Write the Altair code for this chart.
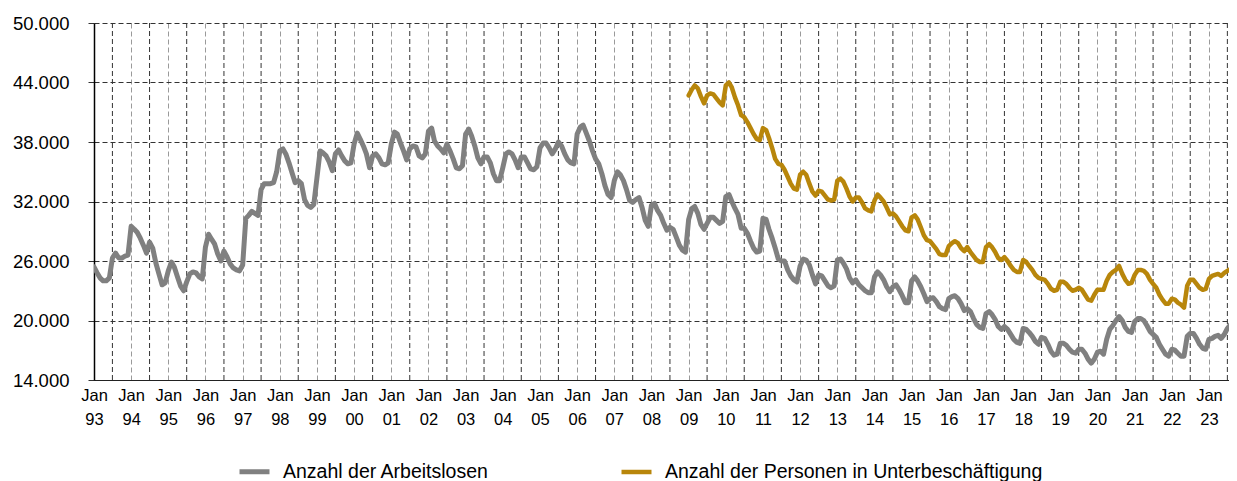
import altair as alt
import pandas as pd

# ---------------- data (values in thousands, monthly) ----------------
SERIES_ALO = "Anzahl der Arbeitslosen"
SERIES_UB = "Anzahl der Personen in Unterbeschäftigung"

# Arbeitslose, monthly from Jan 1993
arbeitslose = [
    25.4, 24.8, 24.3, 24.0, 24.0, 24.3, 26.3, 26.8, 26.3, 26.3, 26.5, 26.6,  # 1993
    29.5, 29.2, 28.9, 28.3, 27.6, 26.8, 27.9, 27.3, 25.8, 24.7, 23.6, 23.8,  # 1994
    25.0, 25.9, 25.4, 24.4, 23.5, 23.0, 23.9, 24.7, 24.9, 24.8, 24.4, 24.2,  # 1995
    27.4, 28.7, 28.2, 27.7, 26.7, 26.0, 27.0, 26.4, 25.7, 25.3, 25.1, 25.0,  # 1996
    25.6, 30.3, 30.6, 31.0, 30.8, 30.6, 33.2, 33.8, 33.8, 33.8, 33.9, 35.0,  # 1997
    37.1, 37.3, 36.8, 35.9, 34.9, 33.9, 34.1, 33.8, 32.2, 31.6, 31.4, 31.7,  # 1998
    34.4, 37.1, 36.9, 36.6, 36.0, 35.1, 36.8, 37.2, 36.6, 36.1, 35.8, 35.9,  # 1999
    37.8, 38.9, 38.3, 37.6, 36.8, 35.4, 36.6, 36.8, 36.4, 35.8, 35.7, 35.9,  # 2000
    37.8, 39.0, 38.8, 37.9, 37.1, 36.2, 37.3, 37.6, 37.5, 36.6, 36.4, 36.8,  # 2001
    39.1, 39.4, 38.1, 37.6, 37.3, 36.9, 37.8, 37.1, 36.3, 35.4, 35.3, 35.6,  # 2002
    38.8, 39.3, 38.6, 37.6, 36.4, 35.8, 36.5, 36.5, 35.9, 34.8, 34.1, 34.1,  # 2003
    35.4, 36.8, 37.0, 36.8, 36.2, 35.4, 36.5, 36.5, 35.9, 35.3, 35.2, 35.5,  # 2004
    37.4, 37.9, 37.9, 37.4, 36.8, 37.3, 38.0, 37.6, 36.8, 36.2, 35.9, 35.8,  # 2005
    38.8, 39.5, 39.7, 38.9, 38.1, 37.1, 36.3, 35.8, 34.8, 33.6, 32.7, 32.4,  # 2006
    34.1, 35.0, 34.7, 34.1, 33.2, 32.1, 31.9, 32.2, 32.4, 31.4, 30.1, 29.5,  # 2007
    31.6, 31.8, 31.1, 30.6, 29.8, 29.1, 29.4, 29.2, 28.4, 27.6, 27.1, 26.9,  # 2008
    30.2, 31.3, 31.5, 30.8, 29.7, 29.2, 29.8, 30.4, 30.4, 30.1, 29.8, 30.0,  # 2009
    32.5, 32.7, 32.0, 31.3, 30.7, 29.3, 29.3, 28.8, 28.0, 27.3, 26.9, 27.0,  # 2010
    30.3, 30.2, 29.2, 28.3, 27.3, 26.2, 26.0, 26.0, 25.1, 24.5, 24.1, 23.9,  # 2011
    25.5, 26.2, 26.1, 25.6, 24.6, 23.7, 24.6, 24.5, 24.0, 23.5, 23.3, 23.5,  # 2012
    26.1, 26.2, 25.8, 25.2, 24.3, 23.8, 24.1, 23.6, 23.3, 23.0, 22.8, 22.8,  # 2013
    24.4, 24.9, 24.6, 24.1, 23.4, 22.9, 23.4, 23.6, 23.1, 22.5, 21.8, 21.8,  # 2014
    24.0, 24.4, 24.0, 23.4, 22.7, 21.9, 22.2, 22.3, 21.9, 21.4, 21.2, 21.1,  # 2015
    22.2, 22.4, 22.5, 22.2, 21.7, 21.0, 21.2, 20.9, 20.2, 19.6, 19.3, 19.2,  # 2016
    20.7, 20.9, 20.6, 20.1, 19.4, 19.1, 19.4, 19.1, 18.6, 18.1, 17.8, 17.7,  # 2017
    19.2, 19.1, 18.8, 18.4, 17.9, 17.6, 18.3, 18.2, 17.6, 16.9, 16.5, 16.6,  # 2018
    17.7, 17.7, 17.5, 17.1, 16.8, 16.7, 17.1, 17.1, 16.7, 16.1, 15.7, 16.1,  # 2019
    16.8, 16.9, 16.6, 18.1, 19.1, 19.5, 20.0, 20.4, 20.0, 19.3, 18.9, 18.8,  # 2020
    19.9, 20.2, 20.2, 20.0, 19.5, 18.9, 18.6, 18.3, 17.6, 17.1, 16.6, 16.4,  # 2021
    17.1, 17.0, 16.7, 16.4, 16.4, 18.4, 18.7, 18.7, 18.2, 17.6, 17.2, 17.1,  # 2022
    18.1, 18.2, 18.4, 18.5, 18.2, 18.6, 19.2, 19.6, 18.9,                    # 2023
]

# Unterbeschaeftigung, monthly from Jan 2009
unterbeschaeftigung = [
    42.7, 43.3, 43.7, 43.4, 42.6, 41.9, 42.7, 42.9, 42.8, 42.4, 42.0, 41.7,  # 2009
    43.7, 44.0, 43.5, 42.5, 41.7, 40.7, 40.5, 40.0, 39.4, 38.8, 38.3, 38.2,  # 2010
    39.4, 39.2, 38.4, 37.4, 36.3, 35.8, 35.7, 35.2, 34.5, 33.8, 33.3, 33.2,  # 2011
    34.7, 35.0, 34.7, 33.8, 33.0, 32.6, 33.1, 33.0, 32.6, 32.2, 32.1, 32.2,  # 2012
    34.1, 34.3, 34.0, 33.3, 32.5, 32.0, 32.4, 32.4, 31.9, 31.3, 31.1, 31.0,  # 2013
    32.1, 32.7, 32.4, 32.0, 31.4, 30.7, 30.8, 30.5, 30.0, 29.5, 29.1, 29.0,  # 2014
    30.4, 30.6, 30.2, 29.4, 28.6, 28.1, 28.0, 27.6, 27.2, 26.7, 26.6, 26.6,  # 2015
    27.5, 27.8, 28.0, 27.8, 27.3, 27.0, 27.4, 26.9, 26.5, 26.1, 25.9, 25.9,  # 2016
    27.4, 27.7, 27.4, 26.9, 26.3, 26.1, 26.4, 26.0, 25.5, 25.1, 24.9, 24.9,  # 2017
    26.1, 25.9, 25.5, 25.1, 24.6, 24.3, 24.2, 24.1, 23.7, 23.2, 23.0, 23.1,  # 2018
    23.9, 23.9, 23.7, 23.3, 23.0, 23.1, 23.3, 23.1, 22.6, 22.1, 22.0, 22.6,  # 2019
    23.1, 23.1, 23.1, 24.0, 24.6, 24.9, 25.1, 25.5, 24.7, 24.1, 23.7, 23.8,  # 2020
    24.6, 25.1, 25.1, 25.0, 24.7, 24.1, 23.7, 23.3, 22.6, 22.1, 21.7, 21.7,  # 2021
    22.2, 22.1, 21.8, 21.6, 21.3, 23.5, 24.1, 24.1, 23.7, 23.3, 23.1, 23.2,  # 2022
    24.2, 24.5, 24.6, 24.7, 24.5, 24.8, 25.0, 25.2, 24.8,                    # 2023
]

y_ticks = [14000, 20000, 26000, 32000, 38000, 44000, 50000]
tick_years = list(range(1993, 2024))
mid_years = list(range(1993, 2024))

# ---------------- tables ----------------
df_a = pd.DataFrame({
    "date": pd.date_range("1993-01-01", periods=len(arbeitslose), freq="MS"),
    "value": [v * 1000 for v in arbeitslose],
    "series": SERIES_ALO,
})
df_u = pd.DataFrame({
    "date": pd.date_range("2009-01-01", periods=len(unterbeschaeftigung), freq="MS"),
    "value": [v * 1000 for v in unterbeschaeftigung],
    "series": SERIES_UB,
})
df = pd.concat([df_a, df_u], ignore_index=True)
df_mid = pd.DataFrame({"date": pd.to_datetime([f"{y}-07-01" for y in mid_years])})

FONT = "Liberation Sans"

x_scale = alt.Scale(domain=[alt.DateTime(year=1993, month=1, date=1),
                            alt.DateTime(year=2023, month=7, date=17)])

x_axis = alt.Axis(
    values=[alt.DateTime(year=y, month=1, date=1) for y in tick_years],
    labelExpr="['Jan', timeFormat(datum.value, '%y')]",
    grid=True, gridColor="#9a9a9a", gridDash=[5, 3], gridWidth=1,
    ticks=False, tickSize=0,
    domainColor="#222222", domainWidth=1,
    labelFont=FONT, labelFontSize=16.5, labelColor="#000000",
    labelLineHeight=24, labelPadding=7, labelAlign="center", labelBaseline="top",
    labelOverlap=False, labelFlush=False, title=None,
)

y_axis = alt.Axis(
    values=y_ticks,
    labelExpr="replace(format(datum.value, ','), ',', '.')",
    grid=True, gridColor="#333333", gridDash=[5, 3], gridWidth=1,
    ticks=True, tickSize=6, tickColor="#333333",
    domainColor="#000000", domainWidth=1.5,
    labelFont=FONT, labelFontSize=18.5, labelColor="#000000", labelPadding=19,
    title=None,
)

mid_rules = alt.Chart(df_mid).mark_rule(
    color="#333333", strokeDash=[5, 3], strokeWidth=1, clip=True
).encode(x=alt.X("date:T", scale=x_scale, axis=x_axis))

lines = alt.Chart(df).mark_line(
    clip=True, strokeJoin="round", strokeCap="round"
).encode(
    x=alt.X("date:T", scale=x_scale, axis=x_axis),
    y=alt.Y("value:Q", scale=alt.Scale(domain=[14000, 50000], nice=False), axis=y_axis),
    color=alt.Color(
        "series:N",
        scale=alt.Scale(domain=[SERIES_ALO, SERIES_UB], range=["#808080", "#B8860B"]),
        legend=alt.Legend(
            orient="none", legendX=143, legendY=431, direction="horizontal",
            title=None, symbolType="stroke", symbolStrokeWidth=6, symbolSize=900,
            labelFont=FONT, labelFontSize=19.5, labelColor="#000000",
            labelLimit=600, labelOffset=11, columnPadding=123, padding=0,
        ),
    ),
    strokeWidth=alt.StrokeWidth(
        "series:N",
        scale=alt.Scale(domain=[SERIES_ALO, SERIES_UB], range=[5, 4.5]),
        legend=None,
    ),
)

chart = alt.layer(mid_rules, lines).properties(
    width=1135, height=357,
    autosize=alt.AutoSizeParams(type="none"),
    padding={"left": 86, "top": 15, "right": 0, "bottom": 101},
    background="white",
).configure_view(strokeWidth=0)

chart.save("out.html", embed_options={"renderer": "svg", "actions": False})
